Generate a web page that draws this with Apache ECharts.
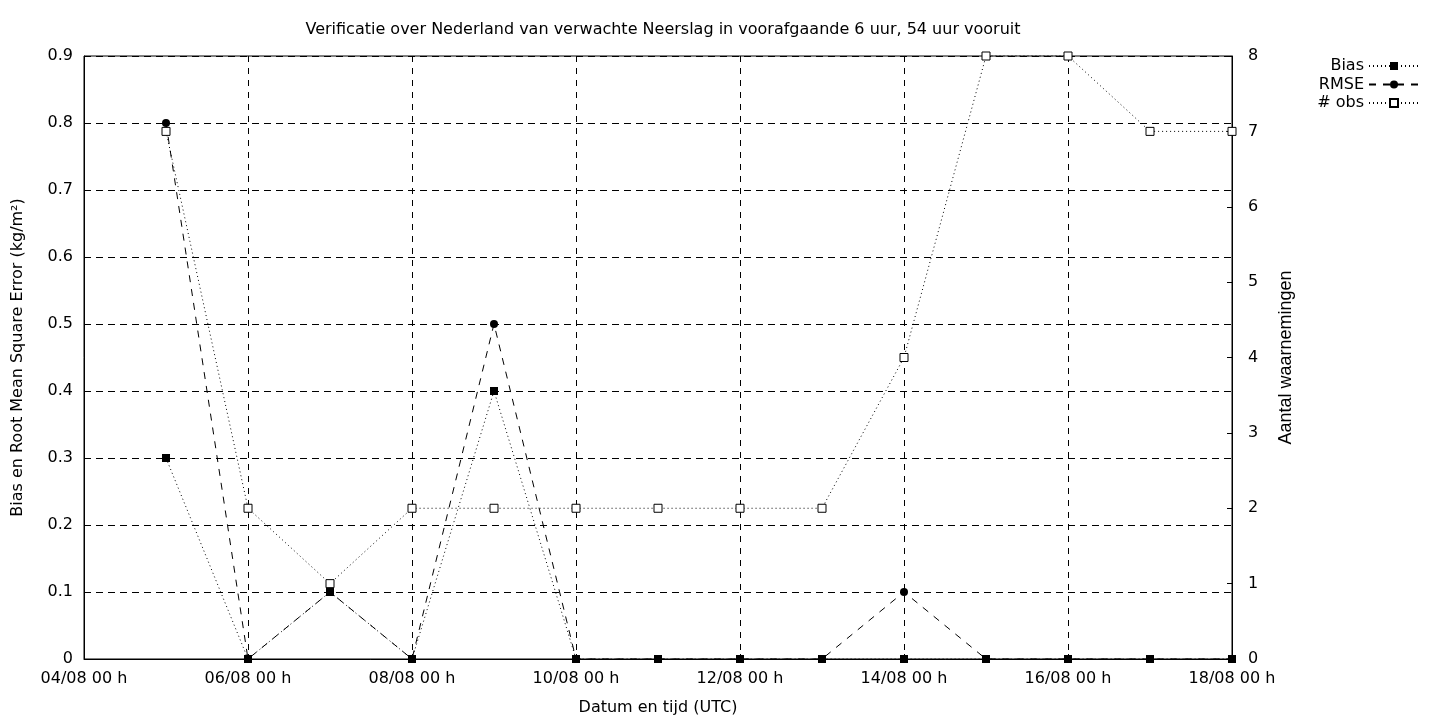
<!DOCTYPE html>
<html>
<head>
<meta charset="utf-8">
<script src="https://cdn.jsdelivr.net/npm/echarts@6/dist/echarts.min.js"></script>
<style>html,body{margin:0;padding:0;background:#fff}#c{width:1440px;height:720px}</style>
</head>
<body>
<div id="c"></div>
<script>
// ---- data ----
const days = [5, 6, 7, 8, 9, 10, 11, 12, 13, 14, 15, 16, 17, 18]; // day of August, 00 h
const bias = [0.3, 0, 0.1, 0, 0.4, 0, 0, 0, 0, 0, 0, 0, 0, 0];
const rmse = [0.8, 0, 0.1, 0, 0.5, 0, 0, 0, 0, 0.1, 0, 0, 0, 0];
const nobs = [7, 2, 1, 2, 2, 2, 2, 2, 2, 4, 8, 8, 7, 7];
const xTickLabels = ['04/08 00 h', '06/08 00 h', '08/08 00 h', '10/08 00 h', '12/08 00 h', '14/08 00 h', '16/08 00 h', '18/08 00 h'];
const leftTickLabels = ['0', '0.1', '0.2', '0.3', '0.4', '0.5', '0.6', '0.7', '0.8', '0.9'];
const rightTickLabels = ['0', '1', '2', '3', '4', '5', '6', '7', '8'];
const title = 'Verificatie over Nederland van verwachte Neerslag in voorafgaande 6 uur, 54 uur vooruit';

const F = 'DejaVu Sans';
const FS = 16;
const chart = echarts.init(document.getElementById('c'), null, {renderer: 'canvas'});
const pair = arr => days.map((d, i) => [d, arr[i]]);
chart.setOption({
  animation: false,
  backgroundColor: '#fff',
  textStyle: {fontFamily: F, color: '#000'},
  title: {
    text: title, left: 658, top: 17, textAlign: 'center',
    textStyle: {fontFamily: F, fontSize: FS, fontWeight: 'normal', color: '#000'}
  },
  legend: {
    orient: 'vertical', right: 15, top: 53, align: 'right',
    itemWidth: 50, itemHeight: 10, itemGap: 2.5,
    textStyle: {fontFamily: F, fontSize: FS, lineHeight: 16, color: '#000'},
    data: ['Bias', 'RMSE', '# obs']
  },
  grid: {left: 84, right: 208, top: 56, bottom: 61, outerBoundsMode: 'none', containLabel: false,
    show: true, borderColor: '#000', borderWidth: 1, backgroundColor: 'transparent'},
  xAxis: {
    type: 'value', min: 4, max: 18, interval: 2,
    name: 'Datum en tijd (UTC)', nameLocation: 'middle', nameGap: 41,
    nameTextStyle: {fontFamily: F, fontSize: FS, color: '#000'},
    axisLine: {show: true, onZero: false, lineStyle: {color: '#000', width: 1}},
    axisTick: {show: true, inside: true, length: 5, lineStyle: {color: '#000'}},
    axisLabel: {fontFamily: F, fontSize: FS, color: '#000', margin: 12,
      formatter: v => xTickLabels[Math.round((v - 4) / 2)] || ''},
    splitLine: {show: true, lineStyle: {color: '#000', type: [6, 6], width: 1}}
  },
  yAxis: [{
    type: 'value', min: 0, max: 0.9, interval: 0.1, position: 'left',
    name: 'Bias en Root Mean Square Error (kg/m²)', nameLocation: 'middle', nameGap: 58,
    nameTextStyle: {fontFamily: F, fontSize: FS, color: '#000'},
    axisLine: {show: true, lineStyle: {color: '#000', width: 1}},
    axisTick: {show: true, inside: true, length: 5, lineStyle: {color: '#000'}},
    axisLabel: {fontFamily: F, fontSize: FS, color: '#000', margin: 11,
      formatter: v => leftTickLabels[Math.round(v * 10)]},
    splitLine: {show: true, lineStyle: {color: '#000', type: [7, 5], width: 1}}
  }, {
    type: 'value', min: 0, max: 8, interval: 1, position: 'right',
    name: 'Aantal waarnemingen', nameLocation: 'middle', nameGap: 45, nameRotate: 90,
    nameTextStyle: {fontFamily: 'Liberation Sans', fontSize: 18, color: '#000'},
    axisLine: {show: true, lineStyle: {color: '#000', width: 1}},
    axisTick: {show: true, inside: true, length: 5, lineStyle: {color: '#000'}},
    axisLabel: {fontFamily: F, fontSize: FS, color: '#000', margin: 16,
      formatter: v => rightTickLabels[Math.round(v)]},
    splitLine: {show: false}
  }],
  series: [{
    name: 'Bias', type: 'line', yAxisIndex: 0, data: pair(bias), clip: false,
    symbol: 'rect', symbolSize: 8, showAllSymbol: true,
    itemStyle: {color: '#000'},
    lineStyle: {color: '#000', width: 1, type: [1, 3]}, z: 4
  }, {
    name: 'RMSE', type: 'line', yAxisIndex: 0, data: pair(rmse), clip: false,
    symbol: 'circle', symbolSize: 8, showAllSymbol: true,
    itemStyle: {color: '#000'},
    lineStyle: {color: '#000', width: 1, type: [7, 7]}, z: 3
  }, {
    name: '# obs', type: 'line', yAxisIndex: 1, data: pair(nobs), clip: false,
    symbol: 'rect', symbolSize: 8, showAllSymbol: true,
    itemStyle: {color: '#fff', borderColor: '#000', borderWidth: 1},
    lineStyle: {color: '#000', width: 1, type: [1, 3]}, z: 5
  }]
});
</script>
</body>
</html>
